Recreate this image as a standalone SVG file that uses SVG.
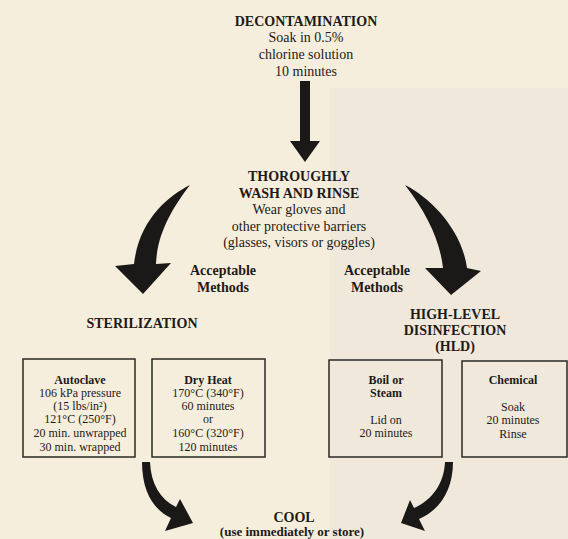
<svg xmlns="http://www.w3.org/2000/svg" width="568" height="539" viewBox="0 0 568 539">
<style>
text{font-family:"Liberation Serif","Times New Roman",serif;fill:#1c1a18;text-anchor:middle}
.h{font-size:14px;font-weight:bold}
.t{font-size:14px}
.bh{font-size:12px;font-weight:bold}
.b{font-size:12px}
.box{fill:none;stroke:#2a2826;stroke-width:1.5}
.arr{fill:#1a1918}
</style>
<rect x="0" y="0" width="568" height="539" fill="#f6eedc"/>
<rect x="330" y="88" width="238" height="451" fill="#f0e9db"/>

<g id="connectors">
<rect class="arr" x="300" y="81" width="10" height="62"/>
<polygon class="arr" points="290,141 320,141 305,162"/>
<path class="arr" d="M190,185 C168,196 139,220 134,264 L115,266 L143,294 L171,263 L156,264 C157,240 166,216 190,185 Z"/>
<path class="arr" d="M405,185 C431,198 462,230 467,268 L481,271 L451,295 L425,268 L443,268 C440,240 426,212 405,185 Z"/>
<path class="arr" d="M142,462 L150,462 C151,484 160,499 176,507 L180,499 L193,523 L165,531 L171,518 C154,510 142,492 142,462 Z"/>
<path class="arr" d="M453,462 L445,462 C444,484 432,500 414,508 L410,500 L401,523 L425,531 L419,519 C440,510 453,490 453,462 Z"/>
</g>

<g id="decontamination">
<text class="h" x="306" y="26">DECONTAMINATION</text>
<text class="t" x="306" y="42">Soak in 0.5%</text>
<text class="t" x="306" y="59">chlorine solution</text>
<text class="t" x="306" y="76">10 minutes</text>
</g>

<g id="wash">
<text class="h" x="299" y="181">THOROUGHLY</text>
<text class="h" x="299" y="198">WASH AND RINSE</text>
<text class="t" x="299" y="214">Wear gloves and</text>
<text class="t" x="299" y="231">other protective barriers</text>
<text class="t" x="299" y="247">(glasses, visors or goggles)</text>
</g>

<g id="acceptable-left">
<text class="h" x="223" y="275">Acceptable</text>
<text class="h" x="223" y="292">Methods</text>
</g>
<g id="acceptable-right">
<text class="h" x="377" y="275">Acceptable</text>
<text class="h" x="377" y="292">Methods</text>
</g>

<g id="sterilization">
<text class="h" x="142" y="328">STERILIZATION</text>
</g>

<g id="hld">
<text class="h" x="455" y="319">HIGH-LEVEL</text>
<text class="h" x="455" y="335">DISINFECTION</text>
<text class="h" x="455" y="351">(HLD)</text>
</g>

<g id="autoclave">
<rect class="box" x="23" y="359" width="112" height="98"/>
<text class="bh" x="80" y="384">Autoclave</text>
<text class="b" x="80" y="397">106 kPa pressure</text>
<text class="b" x="80" y="410">(15 lbs/in²)</text>
<text class="b" x="80" y="423">121°C (250°F)</text>
<text class="b" x="80" y="437">20 min. unwrapped</text>
<text class="b" x="80" y="451">30 min. wrapped</text>
</g>

<g id="dry-heat">
<rect class="box" x="152" y="359" width="113" height="98"/>
<text class="bh" x="208" y="384">Dry Heat</text>
<text class="b" x="208" y="397">170°C (340°F)</text>
<text class="b" x="208" y="410">60 minutes</text>
<text class="b" x="208" y="423">or</text>
<text class="b" x="208" y="437">160°C (320°F)</text>
<text class="b" x="208" y="451">120 minutes</text>
</g>

<g id="boil">
<rect class="box" x="329" y="360" width="113" height="97"/>
<text class="bh" x="386" y="384">Boil or</text>
<text class="bh" x="386" y="397">Steam</text>
<text class="b" x="386" y="424">Lid on</text>
<text class="b" x="386" y="437">20 minutes</text>
</g>

<g id="chemical">
<rect class="box" x="462" y="361" width="105" height="96"/>
<text class="bh" x="513" y="384">Chemical</text>
<text class="b" x="513" y="411">Soak</text>
<text class="b" x="513" y="424">20 minutes</text>
<text class="b" x="513" y="438">Rinse</text>
</g>

<g id="cool">
<text class="h" x="294" y="522">COOL</text>
<text class="h" x="292" y="536" style="font-size:13px">(use immediately or store)</text>
</g>
</svg>
